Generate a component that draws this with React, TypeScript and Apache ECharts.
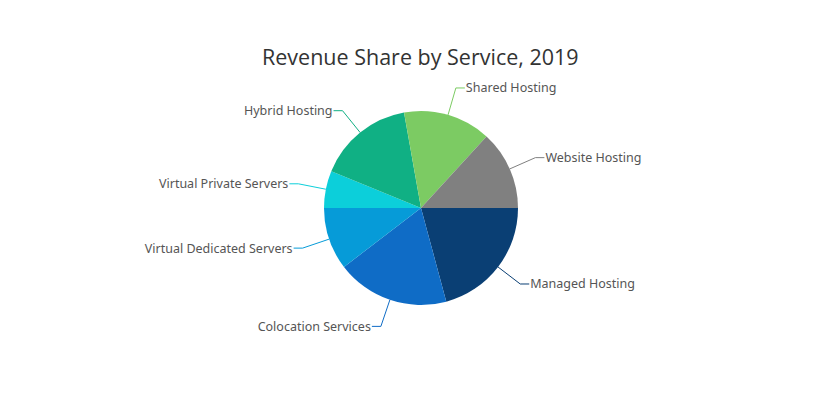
import React, { useEffect, useRef } from "react";
import * as echarts from "echarts";

const categories = [
  "Managed Hosting",
  "Colocation Services",
  "Virtual Dedicated Servers",
  "Virtual Private Servers",
  "Hybrid Hosting",
  "Shared Hosting",
  "Website Hosting",
];
const shares = [20.8, 18.8, 10.4, 6.2, 16.0, 14.6, 13.2];
const colors = ["#0a3f74", "#0f6cc6", "#069bd8", "#0ccfda", "#10b084", "#7ccb63", "#808080"];
const titleText = "Revenue Share by Service, 2019";

export default function App() {
  const ref = useRef<HTMLDivElement>(null);
  useEffect(() => {
    if (!ref.current) return;
    const chart = echarts.init(ref.current, undefined, { renderer: "svg" });
    chart.setOption({
      animation: false,
      backgroundColor: "#ffffff",
      title: {
        text: titleText,
        left: 257,
        top: 40,
        textStyle: {
          fontFamily: "Open Sans",
          fontSize: 21.5,
          fontWeight: "normal",
          color: "#333333",
        },
      },
      series: [
        {
          type: "pie",
          center: [421, 208],
          radius: 97,
          startAngle: 0,
          clockwise: true,
          avoidLabelOverlap: false,
          data: categories.map((name, i) => ({
            name,
            value: shares[i],
            itemStyle: { color: colors[i] },
          })),
          itemStyle: { borderWidth: 0 },
          label: {
            show: true,
            formatter: "{b}",
            fontFamily: "Noto Sans",
            fontSize: 12.5,
            color: "#555555",
            distanceToLabelLine: 1,
          },
          labelLine: {
            show: true,
            length: 28,
            length2: 9,
            smooth: false,
            lineStyle: { width: 1 },
          },
          emphasis: { disabled: true },
        },
      ],
    });
    return () => chart.dispose();
  }, []);
  return (
    <div
      ref={ref}
      style={{ position: "fixed", left: 0, top: 0, width: 820, height: 400 }}
    />
  );
}
